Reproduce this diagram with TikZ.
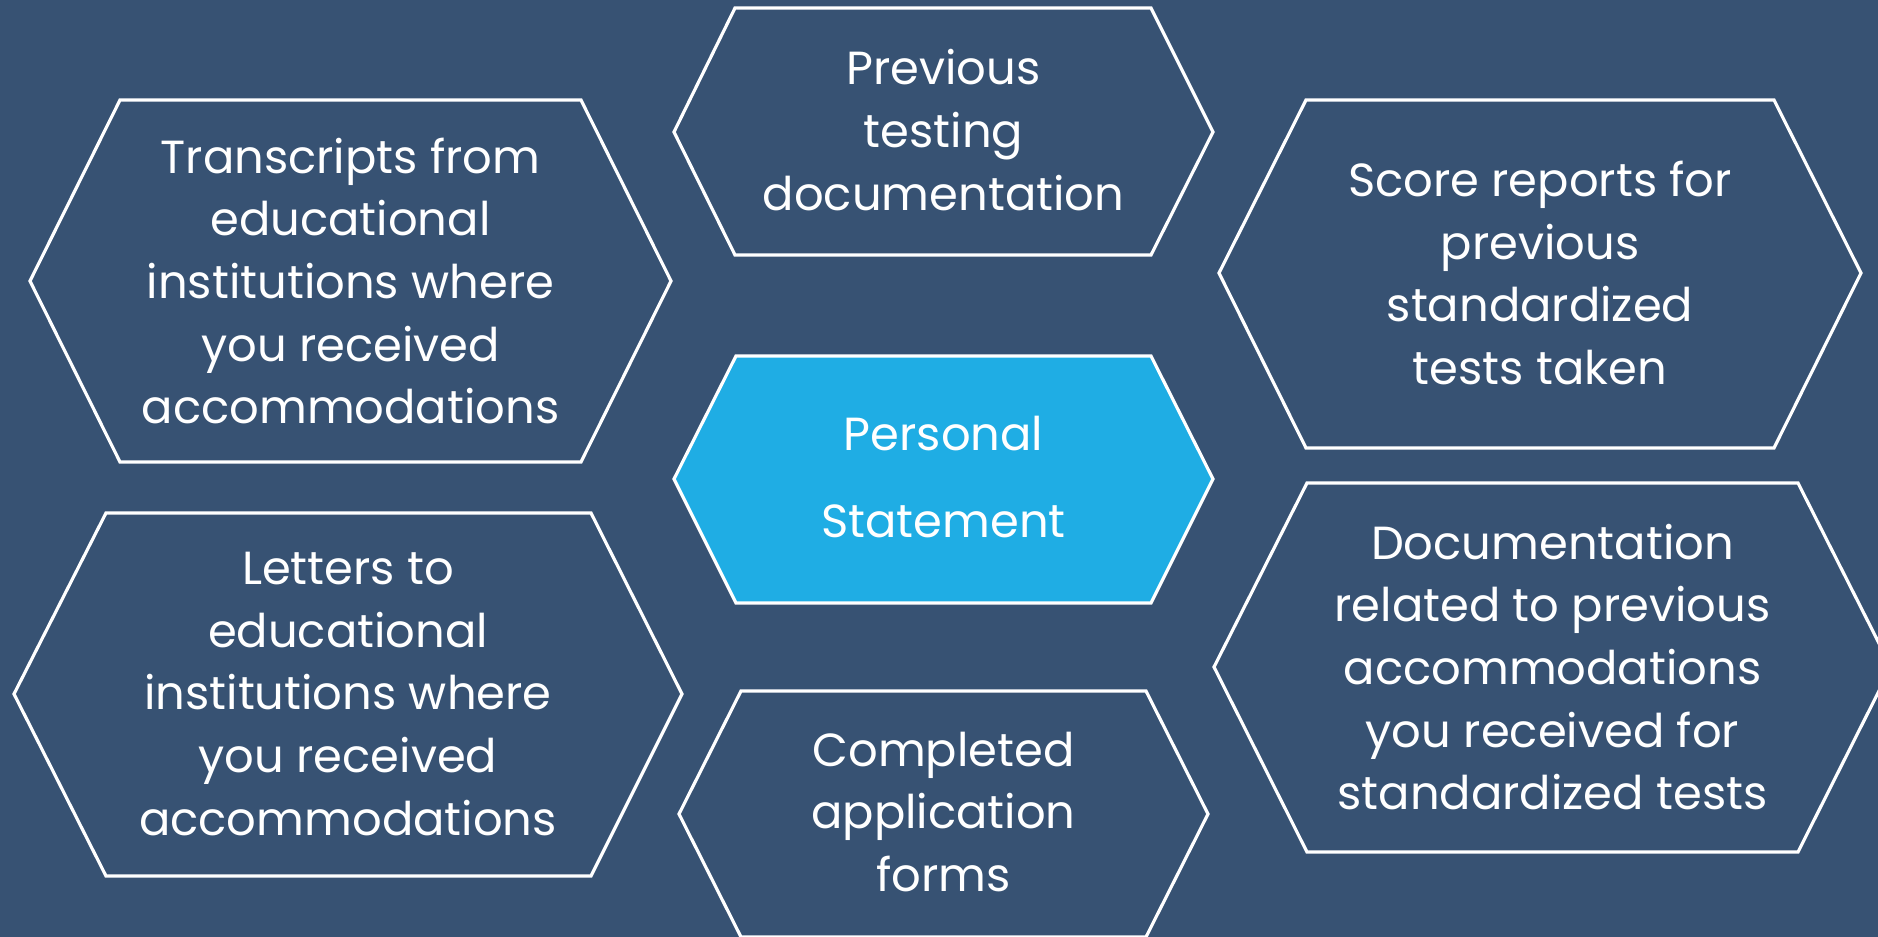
\documentclass[tikz,border=0pt]{standalone}
\usepackage{fontspec}
\setmainfont{Poppins}
\definecolor{slate}{RGB}{55,82,115}
\definecolor{skyfill}{RGB}{31,173,228}

\begin{document}
\begin{tikzpicture}[x=0.01cm,y=-0.01cm,
		hexline/.style={draw=white,line width=0.9pt,line join=miter},
		hexlabel/.style={text=white,align=center,inner sep=0pt,
			font=\fontsize{13.2}{17.8}\selectfont}]
		\useasboundingbox (0,0) rectangle (1878,937);
		\clip (0,0) rectangle (1878,937);
		\fill[slate] (0,0) rectangle (1878,937);
		% left column
		\draw[hexline] (30,281) -- (120,100) -- (581,100) -- (671,281) -- (581,462) -- (120,462) -- cycle;
		\node[hexlabel] (transcripts) at (350.5,281) {Transcripts from\\educational\\institutions where\\you received\\accommodations};
		\draw[hexline] (14,694) -- (106,513) -- (591,513) -- (682,694) -- (591,876) -- (106,876) -- cycle;
		\node[hexlabel] (letters) at (348,694) {Letters to\\educational\\institutions where\\you received\\accommodations};
		% middle column
		\draw[hexline] (674,132) -- (735,8) -- (1151,8) -- (1213,132) -- (1151,255) -- (735,255) -- cycle;
		\node[hexlabel] (prevtest) at (943.5,130) {Previous\\testing\\documentation};
		\draw[hexline,fill=skyfill] (674,479) -- (736,356) -- (1151,356) -- (1213,479) -- (1151,603) -- (736,603) -- cycle;
		\node[hexlabel,font=\fontsize{13.2}{24.6}\selectfont] (personal) at (943.5,477) {Personal\\Statement};
		\draw[hexline] (679,814) -- (741,691) -- (1146,691) -- (1208,814) -- (1146,937) -- (741,937) -- cycle;
		\node[hexlabel] (completed) at (943.5,812) {Completed\\application\\forms};
		% right column
		\draw[hexline] (1219,273) -- (1306,100) -- (1774,100) -- (1861,273) -- (1774,448) -- (1306,448) -- cycle;
		\node[hexlabel] (scores) at (1540,273) {Score reports for\\previous\\standardized\\tests taken};
		\draw[hexline] (1214,667) -- (1307,483) -- (1798,483) -- (1891,667) -- (1798,852) -- (1307,852) -- cycle;
		\node[hexlabel] (priordocs) at (1552.5,667) {Documentation\\related to previous\\accommodations\\you received for\\standardized tests};
	\end{tikzpicture}
\end{document}
